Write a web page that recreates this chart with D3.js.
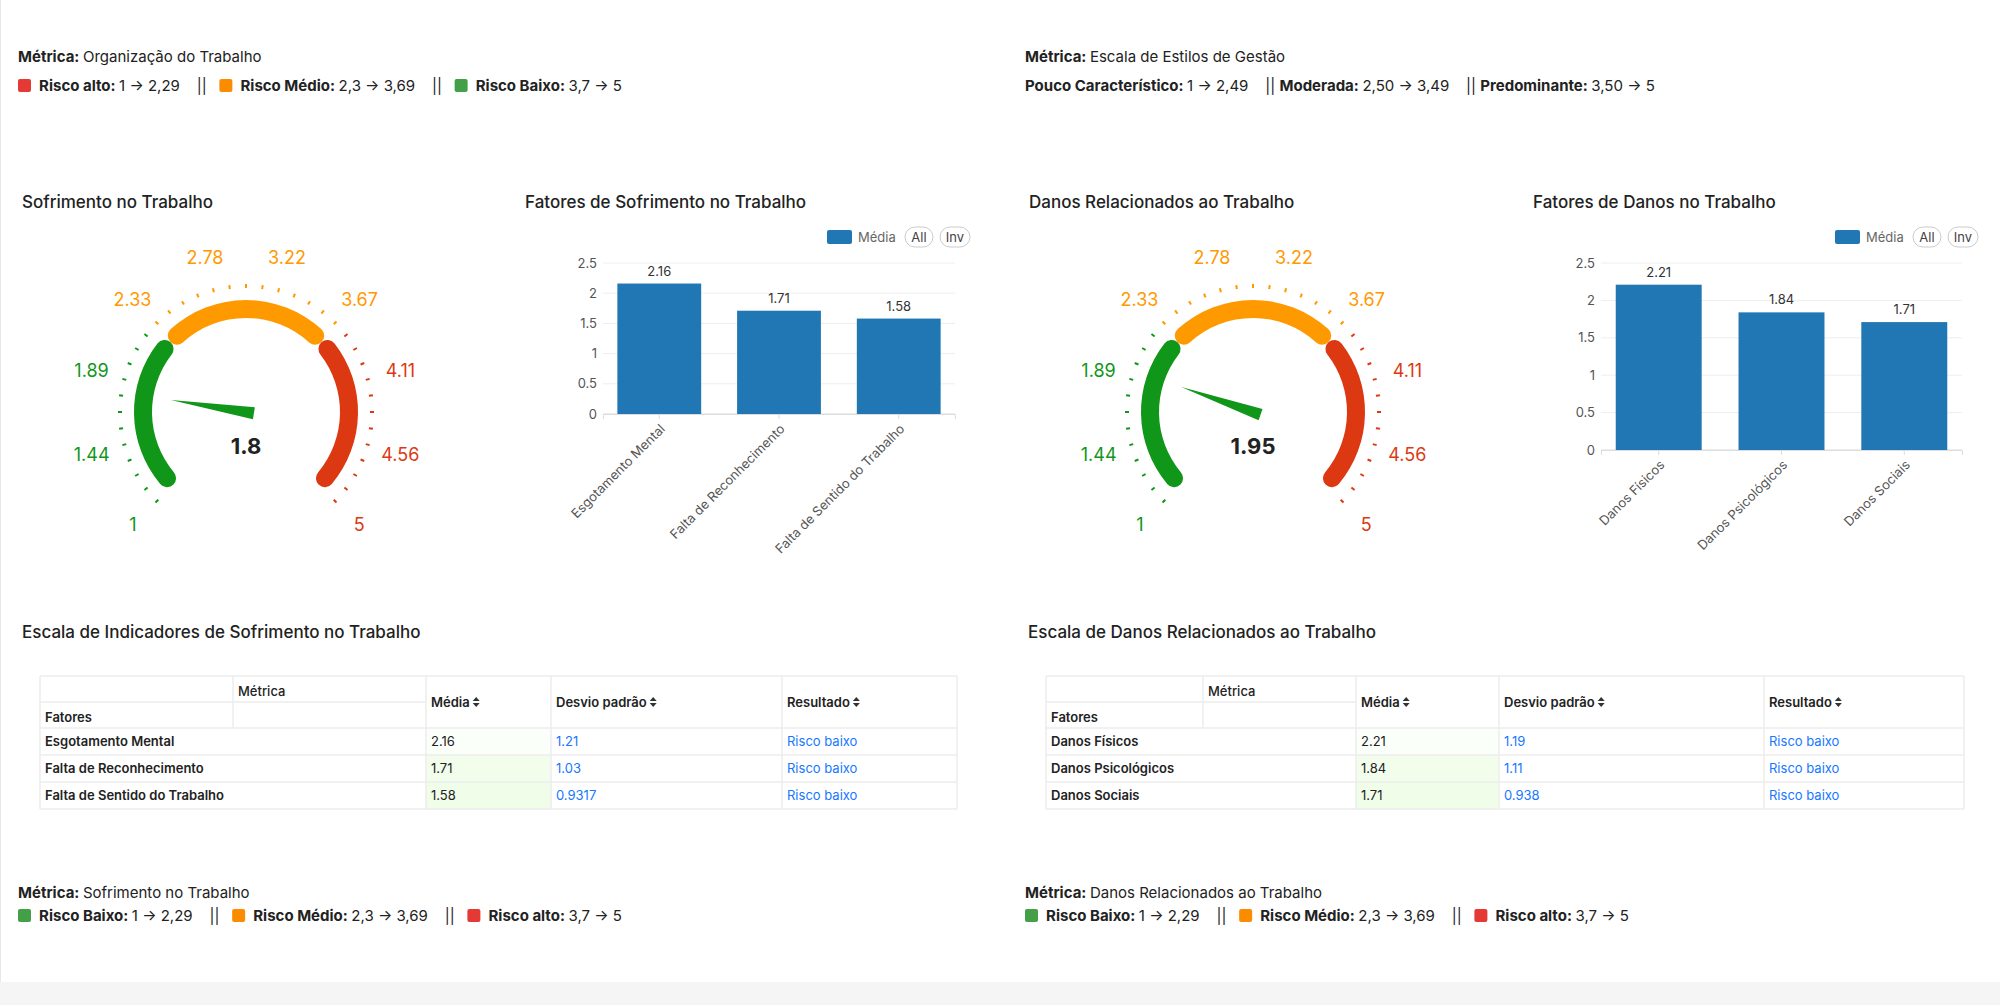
<!DOCTYPE html>
<html><head><meta charset="utf-8">
<script src="https://cdn.jsdelivr.net/npm/d3@7"></script>
<style>body{margin:0;background:#fff;font-family:Inter,"Noto Sans",sans-serif} text{white-space:pre}</style>
</head><body><svg id="svg" width="2000" height="1005"></svg>
<script>
// dados
const gaugeLabels=[1,1.44,1.89,2.33,2.78,3.22,3.67,4.11,4.56,5];
const gaugeValues=[1.8,1.95];
const gaugeTitles=["Sofrimento no Trabalho","Danos Relacionados ao Trabalho"];
const barTitles=["Fatores de Sofrimento no Trabalho","Fatores de Danos no Trabalho"];
const fatores1=["Esgotamento Mental","Falta de Reconhecimento","Falta de Sentido do Trabalho"];
const medias1=[2.16,1.71,1.58];
const desvios1=["1.21","1.03","0.9317"];
const fatores2=["Danos Físicos","Danos Psicológicos","Danos Sociais"];
const medias2=[2.21,1.84,1.71];
const desvios2=["1.19","1.11","0.938"];
const resultados=["Risco baixo","Risco baixo","Risco baixo"];
const yTicks=[0,0.5,1,1.5,2,2.5];
const tableTitles=["Escala de Indicadores de Sofrimento no Trabalho","Escala de Danos Relacionados ao Trabalho"];

const GREEN="#109618",ORANGE="#ff9900",RED="#dc3912";
const svg=d3.select("#svg");
svg.append("rect").attr("x",0).attr("y",982).attr("width",2000).attr("height",23).attr("fill","#f5f5f5");
svg.append("line").attr("x1",0.5).attr("x2",0.5).attr("y1",0).attr("y2",982).attr("stroke","#e8e8e8");

const txt=(x,y,s,o={})=>svg.append("text").attr("x",x).attr("y",y).style("font-size",(o.size||15)+"px")
  .style("font-weight",o.w||400).style("fill",o.fill||"#222").attr("text-anchor",o.anchor||"start").text(s);

// legendas
function legendLine(x,y,parts){
  const t=svg.append("text").attr("x",x).attr("y",y).style("font-size","15px").style("fill","#222");
  parts.forEach(p=>{
    if(p.sw){ t.append("tspan").text("     ").attr("data-c",p.sw); }
    else t.append("tspan").style("font-weight",p.b?700:400).text(p.t);
  });
  let cx=x;
  t.selectAll("tspan").each(function(){
    const n=this, c=n.getAttribute("data-c"), w=n.getComputedTextLength();
    if(c) svg.append("rect").attr("x",cx).attr("y",y-12).attr("width",13).attr("height",13).attr("rx",2).attr("fill",c);
    cx+=w;
  });
}
const cR="#e53935",cO="#fb8c00",cG="#43a047";
[[18,62],[1025,62]].forEach((p,i)=>{
  legendLine(p[0],p[1],[{t:"Métrica: ",b:1},{t:i?"Escala de Estilos de Gestão":"Organização do Trabalho"}]);
});
legendLine(18,91,[{sw:cR},{t:"Risco alto: ",b:1},{t:"1 → 2,29    ||   "},{sw:cO},{t:"Risco Médio: ",b:1},{t:"2,3 → 3,69    ||   "},{sw:cG},{t:"Risco Baixo: ",b:1},{t:"3,7 → 5"}]);
legendLine(1025,91,[{t:"Pouco Característico: ",b:1},{t:"1 → 2,49    || "},{t:"Moderada: ",b:1},{t:"2,50 → 3,49    || "},{t:"Predominante: ",b:1},{t:"3,50 → 5"}]);
["Sofrimento no Trabalho","Danos Relacionados ao Trabalho"].forEach((m,i)=>{
  const x=i?1025:18;
  legendLine(x,898,[{t:"Métrica: ",b:1},{t:m}]);
  legendLine(x,921,[{sw:cG},{t:"Risco Baixo: ",b:1},{t:"1 → 2,29    ||   "},{sw:cO},{t:"Risco Médio: ",b:1},{t:"2,3 → 3,69    ||   "},{sw:cR},{t:"Risco alto: ",b:1},{t:"3,7 → 5"}]);
});

// gauges
const ang=d3.scaleLinear().domain([1,5]).range([-135*Math.PI/180,135*Math.PI/180]);
const zone=v=>v<2.3?GREEN:(v<3.7?ORANGE:RED);
gaugeValues.forEach((val,i)=>{
  const off=i*1007;
  txt(22+off,208,gaugeTitles[i],{size:17,w:500});
  const g=svg.append("g").attr("transform",`translate(${246+off},412)`);
  const arc=d3.arc().innerRadius(94).outerRadius(112).cornerRadius(9);
  [[1,2.3,GREEN],[3.7,5,RED],[2.3,3.7,ORANGE]].forEach(z=>{
    g.append("path").attr("d",arc({startAngle:ang(z[0]),endAngle:ang(z[1])})).attr("fill",z[2]);
  });
  d3.range(0,37).forEach(k=>{
    const v=1+k*4/36,a=ang(v);
    g.append("line").attr("x1",124*Math.sin(a)).attr("y1",-124*Math.cos(a)).attr("x2",128*Math.sin(a)).attr("y2",-128*Math.cos(a))
     .attr("stroke",zone(v)).attr("stroke-width",2);
  });
  gaugeLabels.forEach(v=>{
    const a=ang(v);
    g.append("text").attr("x",160*Math.sin(a)).attr("y",-160*Math.cos(a)).attr("dy","0.35em").attr("text-anchor","middle")
     .style("font-size","18px").style("fill",zone(v)).text(v);
  });
  const a=ang(val),L=76;
  const tip=[L*Math.sin(a),-L*Math.cos(a)],px=Math.cos(a),py=Math.sin(a);
  const base=[-8*Math.sin(a),8*Math.cos(a)];
  g.append("path").attr("d",`M${tip}L${base[0]+6*px},${base[1]+6*py}L${base[0]-6*px},${base[1]-6*py}Z`)
   .attr("fill",GREEN);
  g.append("text").attr("y",42).attr("text-anchor","middle").style("font-size","22px").style("font-weight",700).style("fill","#222").text(val);
});

// barras
[[fatores1,medias1,[603,955],[263,414]],[fatores2,medias2,[1601,1962],[263,450]]].forEach((d,i)=>{
  const off=i*1008;
  txt(525+off,208,barTitles[i],{size:17,w:500});
  const x=d3.scaleBand().domain(d[0]).range(d[2]).paddingInner(0.3).paddingOuter(0.12);
  const y=d3.scaleLinear().domain([0,2.5]).range([d[3][1],d[3][0]]);
  const g=svg.append("g");
  yTicks.forEach(t=>{
    g.append("line").attr("x1",d[2][0]).attr("x2",d[2][1]).attr("y1",y(t)).attr("y2",y(t)).attr("stroke",t?"#eee":"#ddd");
  });
  const ya=g.append("g").attr("transform",`translate(${d[2][0]-3},0)`).call(d3.axisLeft(y).tickValues(yTicks).tickSize(0).tickFormat(d3.format("")));
  ya.select(".domain").remove();
  ya.selectAll("text").style("font-size","13px").style("fill","#555").style("font-family","Inter,sans-serif");
  const xa=g.append("g").attr("transform",`translate(0,${d[3][1]})`).call(d3.axisBottom(x).tickSize(5));
  xa.selectAll("line,path").attr("stroke","#ddd");
  xa.selectAll("text").attr("text-anchor","end").attr("transform","rotate(-45)").attr("dx","-0.5em").attr("dy","0.6em")
    .style("font-size","13px").style("fill","#555").style("font-family","Inter,sans-serif");
  g.selectAll(".bar").data(d[1]).join("rect").attr("x",(v,k)=>x(d[0][k])).attr("width",x.bandwidth())
   .attr("y",v=>y(v)).attr("height",v=>y(0)-y(v)).attr("fill","#2077b4");
  g.selectAll(".lab").data(d[1]).join("text").attr("x",(v,k)=>x(d[0][k])+x.bandwidth()/2).attr("y",v=>y(v)-8)
   .attr("text-anchor","middle").style("font-size","13px").style("fill","#333").text(v=>v);
  const lx=827+off;
  g.append("rect").attr("x",lx).attr("y",230).attr("width",25).attr("height",14).attr("rx",2).attr("fill","#2077b4");
  g.append("text").attr("x",lx+31).attr("y",242).style("font-size","13px").style("fill","#666").text("Média");
  [["All",lx+78,28],["Inv",lx+113,30]].forEach(b=>{
    g.append("rect").attr("x",b[1]).attr("y",227).attr("width",b[2]).attr("height",20).attr("rx",10).attr("fill","#fff").attr("stroke","#ccc");
    g.append("text").attr("x",b[1]+b[2]/2).attr("y",242).attr("text-anchor","middle").style("font-size","13px").style("fill","#444").text(b[0]);
  });
});

// tabelas
const colX=[[40,233,426,551,782,957],[1046,1203,1356,1499,1764,1964]];
[[fatores1,medias1,desvios1],[fatores2,medias2,desvios2]].forEach((d,i)=>{
  const o=i*1006;
  txt(22+o,638,tableTitles[i],{size:17,w:500});
  const X=colX[i], rows=[728,755,782,809];
  const g=svg.append("g");
  const greens=["#fbfffa","#f2fdec","#f0fde9"];
  d[1].forEach((v,k)=>g.append("rect").attr("x",X[2]).attr("y",rows[k]).attr("width",X[3]-X[2]).attr("height",27).attr("fill",greens[k]));
  const ln=(x1,y1,x2,y2)=>g.append("line").attr("x1",x1).attr("y1",y1).attr("x2",x2).attr("y2",y2).attr("stroke","#ececec").attr("stroke-width",1.5);
  ln(X[0],676,X[5],676);ln(X[0],702,X[2],702);
  rows.forEach(r=>ln(X[0],r,X[5],r));
  ln(X[0],676,X[0],809);ln(X[5],676,X[5],809);
  ln(X[1],676,X[1],728);[2,3,4].forEach(c=>ln(X[c],676,X[c],809));
  const t=(x,y,s,w,f)=>g.append("text").attr("x",x).attr("y",y).style("font-size","13px").style("font-weight",w||400).style("fill",f||"#222").text(s);
  t(X[1]+5,696,"Métrica",500);t(X[0]+5,722,"Fatores",600);
  [["Média",2],["Desvio padrão",3],["Resultado",4]].forEach(h=>{
    const e=t(X[h[1]]+5,707,h[0],600);
    const w=e.node().getComputedTextLength();
    g.append("path").attr("d",`M${X[h[1]]+w+8},${701}l3.5,-4l3.5,4zM${X[h[1]]+w+8},${703}l3.5,4l3.5,-4z`).attr("fill","#333");
  });
  d[0].forEach((f,k)=>{
    const yy=rows[k]+18;
    t(X[0]+5,yy,f,600);t(X[2]+5,yy,d[1][k]);t(X[3]+5,yy,d[2][k],400,"#1677ff");t(X[4]+5,yy,resultados[k],400,"#1677ff");
  });
});
</script></body></html>
